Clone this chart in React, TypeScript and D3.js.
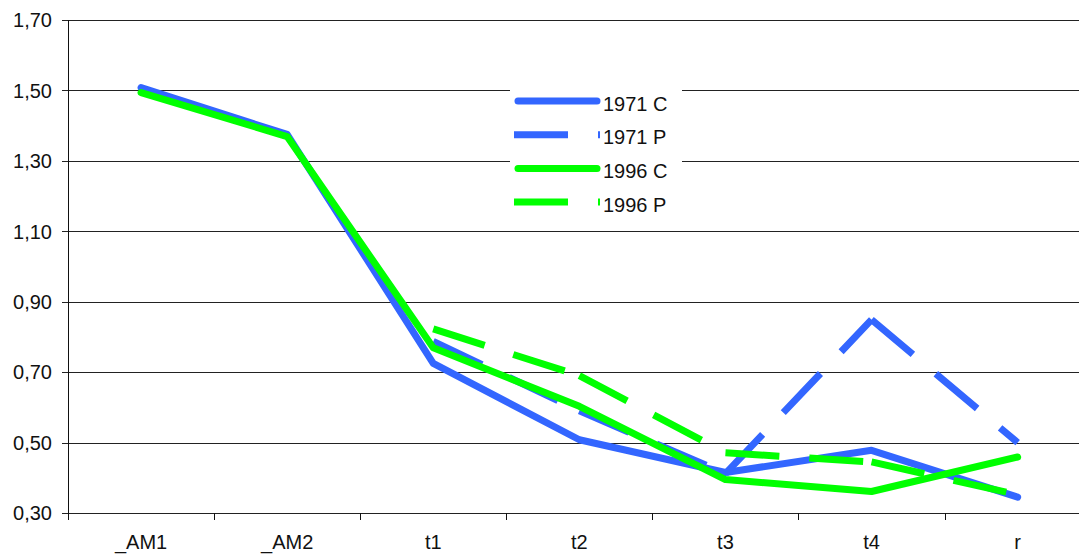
import React from "react";
import * as d3 from "d3";

const categories = ["_AM1", "_AM2", "t1", "t2", "t3", "t4", "r"];
const yTicks = [0.3, 0.5, 0.7, 0.9, 1.1, 1.3, 1.5, 1.7];

const s1971C: (number | null)[] = [1.508, 1.375, 0.725, 0.508, 0.415, 0.478, 0.345];
const s1971P: (number | null)[] = [null, null, 0.787, 0.59, 0.412, 0.849, 0.5];
const s1996C: (number | null)[] = [1.494, 1.369, 0.769, 0.603, 0.395, 0.361, 0.459];
const s1996P: (number | null)[] = [null, null, 0.823, 0.69, 0.471, 0.445, 0.352];

const seriesNames = ["1971 C", "1971 P", "1996 C", "1996 P"];
const seriesData = [s1971C, s1971P, s1996C, s1996P];
const seriesColors = ["#3366FF", "#3366FF", "#00FF00", "#00FF00"];
const seriesDashed = [false, true, false, true];

const W = 1079;
const H = 554;
const left = 68;
const band = 146.1;
const top = 20;
const bottom = 513;
const LW = 7;
const DASH = "54 30";
const FONT = "'Liberation Sans', Arial, sans-serif";

export default function App() {
  const x = d3
    .scaleBand<string>()
    .domain(categories)
    .range([left, left + band * categories.length])
    .paddingInner(0)
    .paddingOuter(0);
  const y = d3.scaleLinear().domain([0.3, 1.7]).range([bottom, top]);
  const cx = (c: string) => (x(c) as number) + x.bandwidth() / 2;
  const fmt = (v: number) => v.toFixed(2).replace(".", ",");
  const lineGen = d3
    .line<number | null>()
    .defined((d) => d !== null)
    .x((_, i) => cx(categories[i]))
    .y((d) => y(d as number));

  const legendX = 510;
  const legendY = 83;
  const rowH = 33.7;

  return (
    <svg
      width={W}
      height={H}
      style={{ position: "absolute", left: 0, top: 0, background: "#fff" }}
      fontFamily={FONT}
    >
      <rect x={0} y={0} width={W} height={H} fill="#fff" />
      {yTicks.map((t) => (
        <g key={t}>
          <line
            x1={left - 6}
            x2={W}
            y1={Math.round(y(t)) + 0.5}
            y2={Math.round(y(t)) + 0.5}
            stroke="#222"
            strokeWidth={1}
          />
          <text x={52} y={y(t) + 7.3} textAnchor="end" fontSize={20} fill="#111">
            {fmt(t)}
          </text>
        </g>
      ))}
      <line x1={left + 0.5} x2={left + 0.5} y1={top} y2={bottom} stroke="#111" strokeWidth={1} />
      {categories.map((c) => (
        <line
          key={"t" + c}
          x1={Math.round(x(c) as number) + 0.5}
          x2={Math.round(x(c) as number) + 0.5}
          y1={bottom}
          y2={bottom + 7}
          stroke="#111"
        />
      ))}
      {categories.map((c) => (
        <text key={"l" + c} x={cx(c)} y={549} textAnchor="middle" fontSize={20} fill="#111">
          {c}
        </text>
      ))}
      {seriesData.map((data, si) =>
        seriesDashed[si] ? (
          <g key={si}>
            {data.slice(1).map((v, i) =>
              data[i] === null || v === null ? null : (
                <line
                  key={i}
                  x1={cx(categories[i])}
                  y1={y(data[i] as number)}
                  x2={cx(categories[i + 1])}
                  y2={y(v)}
                  stroke={seriesColors[si]}
                  strokeWidth={LW}
                  strokeDasharray={DASH}
                  strokeLinecap="butt"
                />
              )
            )}
          </g>
        ) : (
          <path
            key={si}
            d={lineGen(data) as string}
            fill="none"
            stroke={seriesColors[si]}
            strokeWidth={LW}
            strokeLinecap="round"
            strokeLinejoin="round"
          />
        )
      )}
      <rect x={legendX} y={legendY} width={172} height={136} fill="#fff" />
      {seriesNames.map((n, i) => {
        const ly = 101 + i * rowH;
        return (
          <g key={n}>
            {seriesDashed[i] ? (
              <line
                x1={514}
                x2={600}
                y1={ly}
                y2={ly}
                stroke={seriesColors[i]}
                strokeWidth={LW}
                strokeDasharray={DASH}
              />
            ) : (
              <line
                x1={518}
                x2={597}
                y1={ly}
                y2={ly}
                stroke={seriesColors[i]}
                strokeWidth={LW}
                strokeLinecap="round"
              />
            )}
            <text x={603} y={ly + 9.5} fontSize={20} fill="#111">
              {n}
            </text>
          </g>
        );
      })}
    </svg>
  );
}
